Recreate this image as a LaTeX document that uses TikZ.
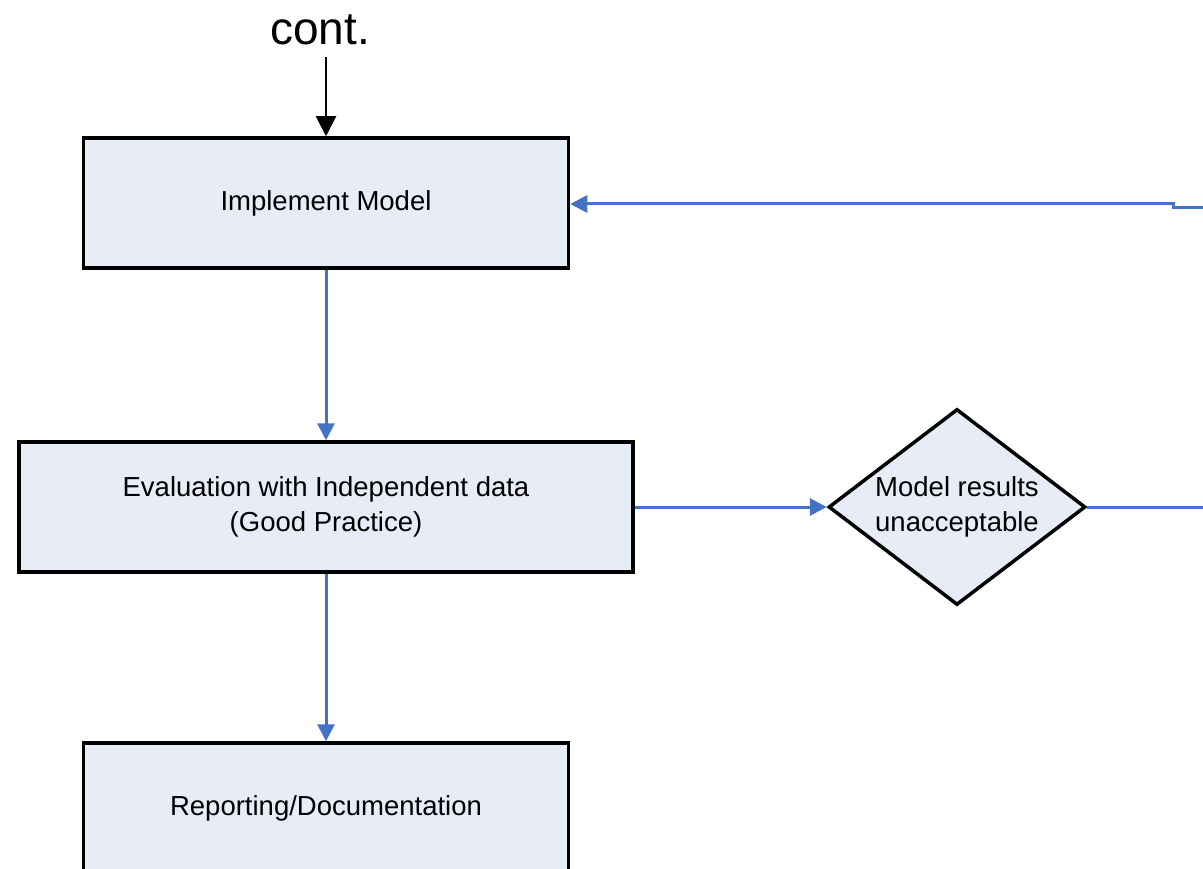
\documentclass[tikz,border=0pt]{standalone}
\usepackage{fontspec}
\setmainfont{Liberation Sans}
\usetikzlibrary{arrows.meta,shapes.geometric}
\definecolor{boxfill}{HTML}{E7ECF7}
\definecolor{flowblue}{HTML}{4472C4}

\tikzset{
    stepbox/.style={draw=black, line width=3.5pt, fill=boxfill, align=center,
        font=\fontsize{27.5}{35}\selectfont, minimum width=485pt, minimum height=130pt},
    choice/.style={diamond, draw=black, line width=3.5pt, fill=boxfill, align=center,
        font=\fontsize{27.5}{35}\selectfont, inner sep=0pt, aspect=1.3,
        minimum width=257pt, minimum height=196pt},
    flow/.style={draw=flowblue, line width=3pt, -{Triangle[length=17pt,width=17pt]}},
    flowline/.style={draw=flowblue, line width=3pt}
}

\begin{document}
\begin{tikzpicture}[x=1pt,y=-1pt]
    \useasboundingbox (0,0) rectangle (1203,869);

    \node (cont) at (320,30) {\fontsize{46}{50}\selectfont cont.};
    \node[stepbox] (impl) at (326,203) {Implement Model};
    \node[stepbox, minimum width=614pt] (eval) at (326,507) {Evaluation with Independent data\\(Good Practice)};
    \node[stepbox] (report) at (326,808) {Reporting/Documentation};
    \node[choice] (unacc) at (957,507) {Model results\\unacceptable};

    % loose ends leaving the page
    \coordinate (retin) at (1203,208);
    \coordinate (jog) at (1173,204);
    \coordinate (outr) at (1203,507);

    \draw[line width=2pt, -{Triangle[length=20pt,width=20pt]}, shorten <=8pt]
        (cont.south -| impl.north) -- (impl.north);
    \draw[flow] (impl) -- (eval);
    \draw[flow] (eval) -- (report);
    \draw[flow] (eval) -- (unacc);
    \draw[flowline] (unacc.east) -- (outr);
    \draw[flow] (retin) -- (jog |- retin) -- (jog) -- (impl.east |- jog);
\end{tikzpicture}
\end{document}
